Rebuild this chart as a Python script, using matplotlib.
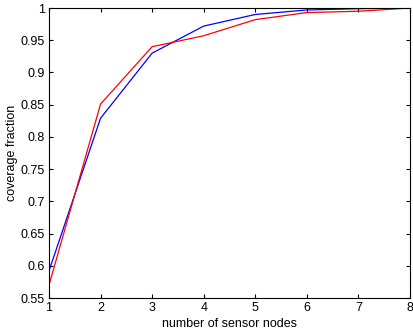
import matplotlib
matplotlib.use('Agg')
import matplotlib.pyplot as plt

# number of sensor nodes vs coverage fraction
nodes = [1, 2, 3, 4, 5, 6, 7, 8]
cov_blue = [0.592, 0.829, 0.930, 0.972, 0.990, 0.997, 0.999, 1.000]
cov_red = [0.570, 0.851, 0.940, 0.957, 0.982, 0.993, 0.995, 1.000]

yticks = [0.55, 0.6, 0.65, 0.7, 0.75, 0.8, 0.85, 0.9, 0.95, 1]
ylabels = ['0.55', '0.6', '0.65', '0.7', '0.75', '0.8', '0.85', '0.9', '0.95', '1']

plt.rcParams['font.family'] = ['Liberation Sans', 'DejaVu Sans']

fig = plt.figure(figsize=(4.13, 3.35), dpi=100)
ax = fig.add_axes([0.1186, 0.1104, 0.8741, 0.8656])

ax.plot(nodes, cov_blue, color='blue', linewidth=0.9)
ax.plot(nodes, cov_red, color='red', linewidth=0.9)

ax.set_xlim(1, 8)
ax.set_ylim(0.55, 1)
ax.set_xticks(nodes)
ax.set_yticks(yticks)
ax.set_yticklabels(ylabels)
ax.tick_params(direction='in', top=True, right=True, labelsize=9, length=3, width=0.8, pad=3)
for s in ax.spines.values():
    s.set_linewidth(0.8)

ax.set_xlabel('number of sensor nodes', fontsize=9, labelpad=2.5)
ax.set_ylabel('coverage fraction', fontsize=9, labelpad=2)

fig.savefig('out.png', dpi=100)
